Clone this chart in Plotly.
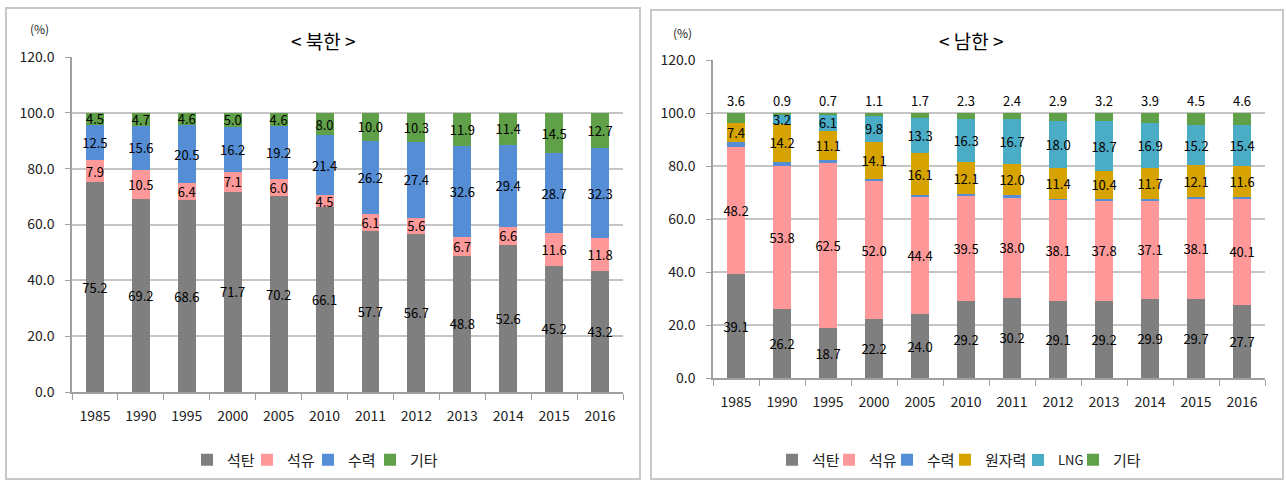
import plotly.graph_objects as go

years = ["1985", "1990", "1995", "2000", "2005", "2010", "2011", "2012", "2013", "2014", "2015", "2016"]

# North Korea (%)
nk_coal = [75.2, 69.2, 68.6, 71.7, 70.2, 66.1, 57.7, 56.7, 48.8, 52.6, 45.2, 43.2]
nk_oil = [7.9, 10.5, 6.4, 7.1, 6.0, 4.5, 6.1, 5.6, 6.7, 6.6, 11.6, 11.8]
nk_hydro = [12.5, 15.6, 20.5, 16.2, 19.2, 21.4, 26.2, 27.4, 32.6, 29.4, 28.7, 32.3]
nk_other = [4.5, 4.7, 4.6, 5.0, 4.6, 8.0, 10.0, 10.3, 11.9, 11.4, 14.5, 12.7]

# South Korea (%)
sk_coal = [39.1, 26.2, 18.7, 22.2, 24.0, 29.2, 30.2, 29.1, 29.2, 29.9, 29.7, 27.7]
sk_oil = [48.2, 53.8, 62.5, 52.0, 44.4, 39.5, 38.0, 38.1, 37.8, 37.1, 38.1, 40.1]
sk_hydro = [1.7, 1.7, 0.9, 0.8, 0.5, 0.6, 0.7, 0.5, 0.7, 0.5, 0.4, 0.6]  # unlabeled thin slices
sk_nuclear = [7.4, 14.2, 11.1, 14.1, 16.1, 12.1, 12.0, 11.4, 10.4, 11.7, 12.1, 11.6]
sk_lng = [0.0, 3.2, 6.1, 9.8, 13.3, 16.3, 16.7, 18.0, 18.7, 16.9, 15.2, 15.4]
sk_other = [3.6, 0.9, 0.7, 1.1, 1.7, 2.3, 2.4, 2.9, 3.2, 3.9, 4.5, 4.6]

colors = {"석탄": "#7f7f7f", "석유": "#ff9999", "수력": "#558ed5",
          "원자력": "#d6a300", "LNG": "#4bacc6", "기타": "#5fa048"}

FONT = "Malgun Gothic, Noto Sans CJK KR, sans-serif"
W, H = 1286, 481

def fmt(vals):
    return [f"{v:.1f}" if v > 0 else "" for v in vals]

fig = go.Figure()
legend_defs = {}
legend_no = [1]

def new_legend(text_px, size=15):
    n = legend_no[0]
    key = "legend" if n == 1 else f"legend{n}"
    legend_no[0] += 1
    legend_defs[key] = dict(orientation="h", x=(text_px - 40) / W, xanchor="left",
                            y=1 - 460 / H, yanchor="middle", itemwidth=30,
                            font=dict(size=size, family=FONT, color="#222"),
                            bgcolor="rgba(0,0,0,0)", borderwidth=0)
    return key

nk_series = [("석탄", nk_coal, 227), ("석유", nk_oil, 287), ("수력", nk_hydro, 348), ("기타", nk_other, 410)]
for name, vals, lx in nk_series:
    fig.add_trace(go.Bar(
        x=years, y=vals, name=name, marker=dict(color=colors[name], line=dict(width=0)),
        text=fmt(vals), textposition="inside", insidetextanchor="middle",
        textangle=0, constraintext="none",
        textfont=dict(size=13, color="black", family=FONT),
        xaxis="x", yaxis="y", legend=new_legend(lx), hoverinfo="x+y+name"))

sk_series = [("석탄", sk_coal, True, 812, 15), ("석유", sk_oil, True, 869, 15),
             ("수력", sk_hydro, False, 927, 15), ("원자력", sk_nuclear, True, 985, 15),
             ("LNG", sk_lng, True, 1058, 13), ("기타", sk_other, True, 1113, 15)]
for name, vals, lab, lx, fs in sk_series:
    fig.add_trace(go.Bar(
        x=years, y=vals, name=name, marker=dict(color=colors[name], line=dict(width=0)),
        text=fmt(vals) if lab else None,
        textposition="outside" if name == "기타" else "inside",
        insidetextanchor="middle", textangle=0, constraintext="none", cliponaxis=False,
        textfont=dict(size=13, color="black", family=FONT),
        xaxis="x2", yaxis="y2", legend=new_legend(lx, fs), hoverinfo="x+y+name"))

yax = dict(range=[0, 120], dtick=20, tickformat=".1f", showgrid=True,
           gridcolor="#c4c4c4", gridwidth=2, showline=True, linecolor="#a0a0a0",
           linewidth=1.5, ticks="outside", ticklen=5, tickcolor="#a0a0a0",
           ticklabelstandoff=8, automargin=False,
           tickfont=dict(size=14, color="#222", family=FONT), zeroline=False)
xax = dict(showline=True, linecolor="#a0a0a0", linewidth=1.5, ticks="outside",
           tickson="boundaries", ticklen=6, tickcolor="#a0a0a0", ticklabelstandoff=10,
           automargin=False,
           tickfont=dict(size=14, color="#222", family=FONT), type="category")

fig.update_layout(
    width=W, height=H, autosize=False,
    margin=dict(l=0, r=0, t=0, b=0, autoexpand=False),
    paper_bgcolor="white", plot_bgcolor="white",
    barmode="stack", bargap=0.61,
    font=dict(family=FONT, color="#222"),
    xaxis=dict(domain=[72 / W, 623 / W], anchor="y", **xax),
    yaxis=dict(domain=[1 - 392 / H, 1 - 57 / H], anchor="x", **yax),
    xaxis2=dict(domain=[713 / W, 1265 / W], anchor="y2", **xax),
    yaxis2=dict(domain=[1 - 378 / H, 1 - 60 / H], anchor="x2", **yax),
    showlegend=True,
    **legend_defs,
)

fig.add_shape(type="rect", xref="paper", yref="paper", x0=6 / W, x1=640 / W,
              y0=1 - 479 / H, y1=1 - 8 / H, line=dict(color="#c8c8c8", width=2), layer="below")
fig.add_shape(type="rect", xref="paper", yref="paper", x0=651 / W, x1=1283 / W,
              y0=1 - 479 / H, y1=1 - 10 / H, line=dict(color="#c8c8c8", width=2), layer="below")

for txt, cx, cy, sz in [("< 북한 >", 323, 40, 19), ("< 남한 >", 971, 40, 19),
                        ("(%)", 39, 28, 12), ("(%)", 682, 33, 12)]:
    fig.add_annotation(text=txt, xref="paper", yref="paper", x=cx / W, y=1 - cy / H,
                       xanchor="center", yanchor="middle", showarrow=False,
                       font=dict(size=sz, color="black" if sz > 15 else "#222", family=FONT))

fig.write_html("out.html", config={"displayModeBar": False}, post_script=(
    "document.body.style.margin='0';document.body.style.overflow='hidden';"
    "document.documentElement.style.overflow='hidden';"))
